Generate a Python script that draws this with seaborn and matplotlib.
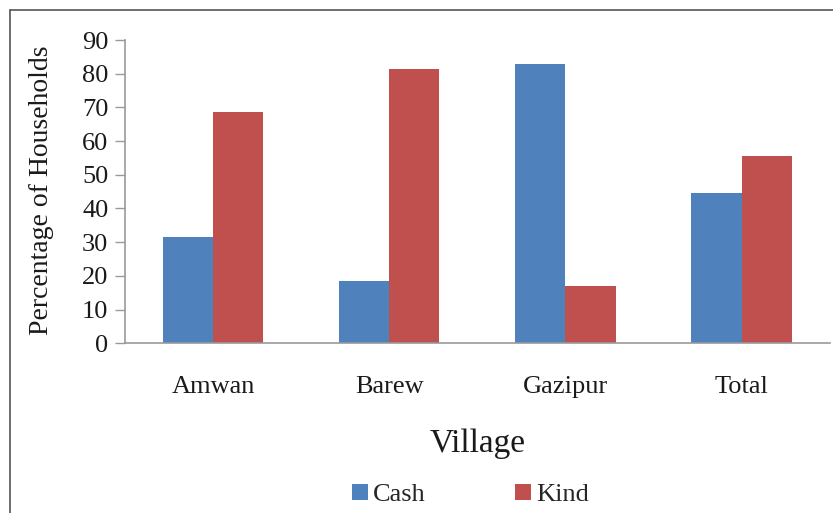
import pandas as pd
import matplotlib.pyplot as plt
import seaborn as sns
from matplotlib.lines import Line2D

# ==========================================
# DATA
# ==========================================
villages = ["Amwan", "Barew", "Gazipur", "Total"]
cash = [31.5, 18.5, 83.0, 44.5]
kind = [68.5, 81.5, 17.0, 55.5]
y_ticks = [0, 10, 20, 30, 40, 50, 60, 70, 80, 90]

df = pd.DataFrame({
    "Village": villages * 2,
    "Mode": ["Cash"] * len(villages) + ["Kind"] * len(villages),
    "Percentage": cash + kind,
})

# ==========================================
# PLOT
# ==========================================
sns.set_style("white")
plt.rcParams["font.family"] = ["Liberation Serif", "DejaVu Serif"]

fig = plt.figure(figsize=(8.33, 5.13), dpi=100)
ax = fig.add_axes([0.150, 0.331, 0.846, 0.591])

ax = sns.barplot(
    data=df,
    x="Village",
    y="Percentage",
    hue="Mode",
    palette={"Cash": "#4F81BD", "Kind": "#C0504D"},
    width=0.57,
    saturation=1,
    linewidth=0,
    ax=ax,
)

ax.set_ylim(0, 90)
ax.set_xlim(-0.5, 3.5)
ax.set_yticks(y_ticks)

ax.set_ylabel("Percentage of Households", fontsize=20, color="#1a1a1a")
ax.yaxis.set_label_coords(-0.100, 0.505)
ax.set_xlabel("Village", fontsize=24, labelpad=22, color="#1a1a1a")

ax.tick_params(axis="y", which="both", left=True, length=7, width=1,
               color="#999999", labelsize=19, labelcolor="#1a1a1a", pad=5)
ax.tick_params(axis="x", bottom=False, labelsize=19, labelcolor="#1a1a1a", pad=20)

sns.despine(ax=ax, top=True, right=True)
for side in ["left", "bottom"]:
    ax.spines[side].set_color("#999999")
    ax.spines[side].set_linewidth(1.2)

ax.legend_.remove()
handles, labels = ax.get_legend_handles_labels()
fig.legend(
    handles,
    labels,
    loc="center",
    bbox_to_anchor=(0.565, 0.035),
    ncol=2,
    frameon=False,
    fontsize=19,
    handlelength=0.6,
    handleheight=0.6,
    handletextpad=0.2,
    columnspacing=3.4,
)

# frame around the chart (top and left edges visible)
fig.add_artist(Line2D([10 / 833, 1.0], [1 - 10 / 513, 1 - 10 / 513],
                      transform=fig.transFigure, color="#555555", linewidth=1.2))
fig.add_artist(Line2D([10 / 833, 10 / 833], [0.0, 1 - 10 / 513],
                      transform=fig.transFigure, color="#555555", linewidth=1.2))

plt.savefig("out.png", dpi=100)
